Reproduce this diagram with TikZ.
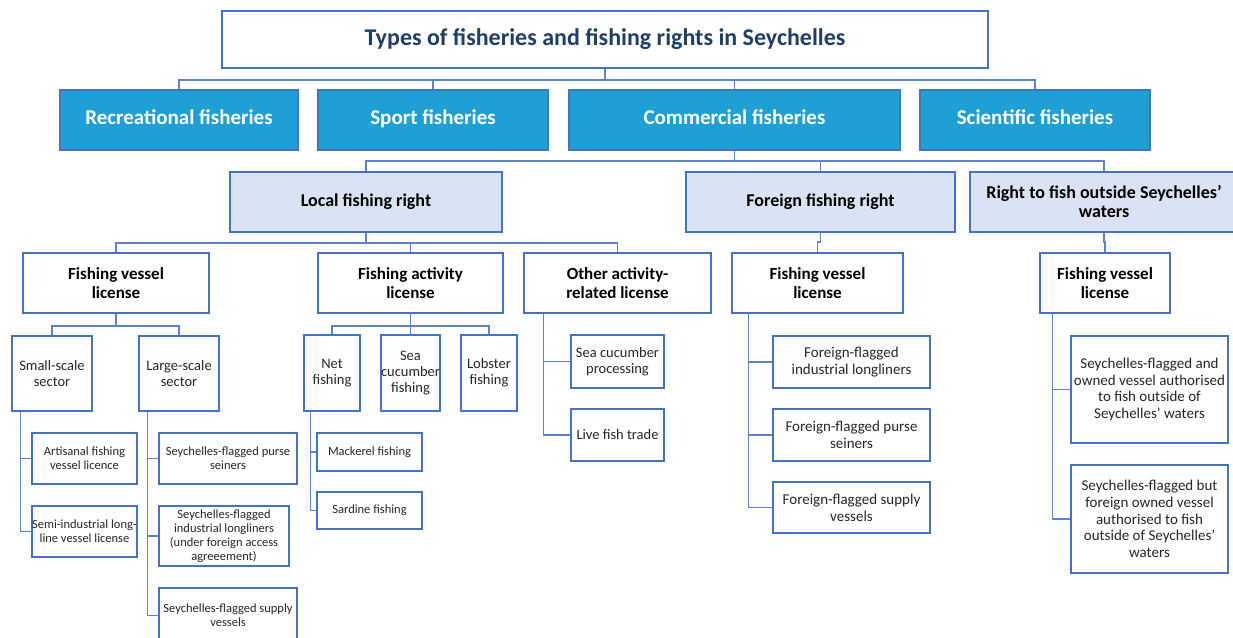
\documentclass[tikz,border=0pt]{standalone}
\usepackage{fontspec}
\setmainfont{Carlito}
\definecolor{bord}{HTML}{4472C4}
\definecolor{lvlone}{HTML}{1FA0D4}
\definecolor{lvltwo}{HTML}{DAE3F3}
\definecolor{ttl}{HTML}{1F3F66}
\definecolor{conncol}{HTML}{5F84CC}
\definecolor{smalltxt}{HTML}{262626}
\newcommand\bx[7]{\node[#6, minimum width={(#4)-(#2)}, minimum height={(#5)-(#3)}] (#1) at ({((#2)+(#4))/2},{((#3)+(#5))/2}) {#7};}
\tikzset{
  basebox/.style={draw=bord, line width=1.8pt, inner sep=0pt, align=center},
  titlebox/.style={basebox, fill=white, text=ttl, font=\fontsize{24}{28}\selectfont\bfseries, text height=16pt, text depth=5pt},
  onebox/.style={basebox, fill=lvlone, text=white, font=\fontsize{21}{25}\selectfont\bfseries, text height=14pt, text depth=4.5pt},
  twobox/.style={basebox, fill=lvltwo, text=black, font=\fontsize{18}{19}\selectfont\bfseries},
  threebox/.style={basebox, fill=white, text=black, font=\fontsize{17}{18.5}\selectfont\bfseries},
  midbox/.style={basebox, fill=white, text=smalltxt, font=\fontsize{14.5}{16}\selectfont},
  leafbox/.style={basebox, fill=white, text=smalltxt, font=\fontsize{12.5}{14}\selectfont},
  leafboxb/.style={basebox, fill=white, text=smalltxt, font=\fontsize{15}{16.7}\selectfont},
  conn/.style={draw=conncol, line width=1.2pt}
}
\begin{document}
\begin{tikzpicture}[x=1pt,y=-1pt]
\useasboundingbox (0,0) rectangle (1233,637);
% title
\bx{title}{222}{11}{988}{68}{titlebox}{Types of fisheries and fishing rights in Seychelles}
% level 1
\bx{rec}{60}{90}{298}{150}{onebox}{Recreational fisheries}
\bx{sport}{318}{90}{548}{150}{onebox}{Sport fisheries}
\bx{comm}{569}{90}{900}{150}{onebox}{Commercial fisheries}
\bx{sci}{920}{90}{1150}{150}{onebox}{Scientific fisheries}
% level 2
\bx{local}{230}{172}{502}{232}{twobox}{Local fishing right}
\bx{foreign}{686}{172}{955}{232}{twobox}{Foreign fishing right}
\bx{outside}{970}{172}{1238}{232}{twobox}{Right to fish outside Seychelles'\\waters}
% level 3
\bx{fvl}{23}{253}{209}{313}{threebox}{Fishing vessel\\license}
\bx{fal}{318}{253}{503}{313}{threebox}{Fishing activity\\license}
\bx{oal}{524}{253}{711}{313}{threebox}{Other activity-\\related license}
\bx{ffvl}{732}{253}{903}{313}{threebox}{Fishing vessel\\license}
\bx{rfvl}{1040}{253}{1170}{313}{threebox}{Fishing vessel\\license}
% level 4
\bx{small}{12}{336}{92}{411}{midbox}{Small-scale\\sector}
\bx{large}{139}{336}{219}{411}{midbox}{Large-scale\\sector}
\bx{net}{304}{335}{360}{411}{midbox}{Net\\fishing}
\bx{seacf}{381}{335}{440}{411}{midbox}{Sea\\cucumber\\fishing}
\bx{lob}{461}{335}{517}{411}{midbox}{Lobster\\fishing}
% leaves
\bx{art}{32}{433}{137}{484}{leafbox}{Artisanal fishing\\vessel licence}
\bx{semi}{32}{506}{137}{557}{leafbox}{Semi-industrial long-\\line vessel license}
\bx{purse}{159}{433}{297}{484}{leafbox}{Seychelles-flagged purse\\seiners}
\bx{longl}{159}{506}{289}{566}{leafbox}{Seychelles-flagged\\industrial longliners\\(under foreign access\\agreeement)}
\bx{supply}{159}{588}{297}{643}{leafbox}{Seychelles-flagged supply\\vessels}
\bx{mack}{317}{433}{422}{471}{leafbox}{Mackerel fishing}
\bx{sard}{317}{492}{422}{529}{leafbox}{Sardine fishing}
\bx{scp}{571}{335}{664}{388}{midbox}{Sea cucumber\\processing}
\bx{live}{571}{409}{664}{461}{midbox}{Live fish trade}
\bx{ffl}{773}{336}{930}{388}{leafboxb}{Foreign-flagged\\industrial longliners}
\bx{ffp}{773}{409}{930}{461}{leafboxb}{Foreign-flagged purse\\seiners}
\bx{ffs}{773}{482}{930}{533}{leafboxb}{Foreign-flagged supply\\vessels}
\bx{sfa}{1071}{336}{1228}{443}{leafboxb}{Seychelles-flagged and\\owned vessel authorised\\to fish outside of\\Seychelles' waters}
\bx{sfb}{1071}{465}{1228}{573}{leafboxb}{Seychelles-flagged but\\foreign owned vessel\\authorised to fish\\outside of Seychelles'\\waters}
% connectors level 1
\coordinate (b1) at (title.south |- 0,80);
\draw[conn] (title.south) -- (b1) -| (rec.north);
\draw[conn] (b1) -| (sport.north);
\draw[conn] (b1) -| (comm.north);
\draw[conn] (b1) -| (sci.north);
% level 2
\coordinate (b2) at (comm.south |- 0,161);
\draw[conn] (comm.south) -- (b2) -| (local.north);
\draw[conn] (b2) -| (foreign.north);
\draw[conn] (b2) -| (outside.north);
% level 3
\coordinate (b3) at (local.south |- 0,243);
\draw[conn] (local.south) -- (b3) -| (fvl.north);
\draw[conn] (b3) -| (fal.north);
\draw[conn] (b3) -| (oal.north);
\draw[conn] (foreign.south) -- ++(0,9) -| (ffvl.north);
\draw[conn] (outside.south) -- ++(0,9) -| (rfvl.north);
% level 4
\coordinate (b4) at (fvl.south |- 0,326);
\draw[conn] (fvl.south) -- (b4) -| (small.north);
\draw[conn] (b4) -| (large.north);
\coordinate (b5) at (fal.south |- 0,326);
\draw[conn] (fal.south) -- (b5) -| (net.north);
\draw[conn] (b5) -| (seacf.north);
\draw[conn] (b5) -| (lob.north);
% side trunks
\draw[conn] ([xshift=9pt]small.south west) |- (art.west);
\draw[conn] ([xshift=9pt]small.south west) |- (semi.west);
\draw[conn] ([xshift=9pt]large.south west) |- (purse.west);
\draw[conn] ([xshift=9pt]large.south west) |- (longl.west);
\draw[conn] ([xshift=9pt]large.south west) |- (supply.west);
\draw[conn] ([xshift=7pt]net.south west) |- (mack.west);
\draw[conn] ([xshift=7pt]net.south west) |- (sard.west);
\draw[conn] ([xshift=20pt]oal.south west) |- (scp.west);
\draw[conn] ([xshift=20pt]oal.south west) |- (live.west);
\draw[conn] ([xshift=17pt]ffvl.south west) |- (ffl.west);
\draw[conn] ([xshift=17pt]ffvl.south west) |- (ffp.west);
\draw[conn] ([xshift=17pt]ffvl.south west) |- (ffs.west);
\draw[conn] ([xshift=13pt]rfvl.south west) |- (sfa.west);
\draw[conn] ([xshift=13pt]rfvl.south west) |- (sfb.west);
\end{tikzpicture}
\end{document}
